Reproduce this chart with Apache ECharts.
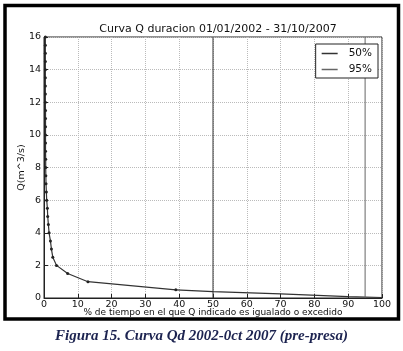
<!DOCTYPE html>
<html lang="es">
<head>
    <meta charset="UTF-8"/>
    <title>Curva Q duracion</title>
    <script src="https://cdn.jsdelivr.net/npm/echarts@6/dist/echarts.min.js"></script>
    <style>
        html, body { margin: 0; padding: 0; background: #fff; }
    </style>
</head>
<body>
<div id="main" style="width: 403px;height:351px;"></div>

<script type="text/javascript">
    // % de tiempo excedido (x) y caudal Q (y)
    var pctTiempo = [0.4, 0.4, 0.4, 0.4, 0.4, 0.4, 0.4, 0.4, 0.4, 0.45, 0.45, 0.45, 0.45, 0.45, 0.45, 0.5,
        0.5, 0.55, 0.6, 0.7, 0.8, 1.0, 1.1, 1.3, 1.5, 1.9, 2.2, 2.6, 3.7, 7.0, 13.0, 39.0];
    var caudal = [16, 15.5, 15, 14.5, 14, 13.5, 13, 12.5, 12, 11.5, 11, 10.5, 10, 9.5, 9, 8.5,
        8, 7.5, 7, 6.5, 6, 5.5, 5, 4.5, 4, 3.5, 3, 2.5, 2, 1.5, 1, 0.5];
    // tramo final de la curva (sin marcadores)
    var colaPct = [39, 50, 70, 90, 100];
    var colaQ = [0.5, 0.39, 0.25, 0.08, 0.03];

    var lineas = ['50%', '95%'];
    var lineasX = [50, 95];
    var xTicks = [0, 10, 20, 30, 40, 50, 60, 70, 80, 90, 100];
    var yTicks = [0, 2, 4, 6, 8, 10, 12, 14, 16];

    var curva = pctTiempo.map(function (p, i) { return [p, caudal[i]]; });
    var cola = colaPct.map(function (p, i) { return [p, colaQ[i]]; });

    var myChart = echarts.init(document.getElementById('main'));
    var font = 'DejaVu Sans';

    var option = {
        backgroundColor: '#fff',
        animation: false,
        title: {
            text: 'Curva Q duracion 01/01/2002 - 31/10/2007',
            left: 213,
            top: 19,
            textAlign: 'center',
            textStyle: {fontFamily: font, fontSize: 11, fontWeight: 'normal', color: '#111'}
        },
        legend: {
            data: lineas,
            orient: 'vertical',
            right: 25,
            top: 44,
            padding: [4, 6, 3, 6],
            itemGap: 5,
            itemWidth: 16,
            itemHeight: 1.5,
            icon: 'rect',
            borderColor: '#222',
            borderWidth: 1,
            backgroundColor: '#fff',
            textStyle: {fontFamily: font, fontSize: 10.5, color: '#111', padding: [0, 0, 0, 6]}
        },
        grid: {
            left: 44, top: 37, right: 21, bottom: 53,
            show: true, borderColor: '#222', borderWidth: 1
        },
        xAxis: {
            type: 'value',
            min: xTicks[0],
            max: xTicks[xTicks.length - 1],
            interval: 10,
            name: '% de tiempo en el que Q indicado es igualado o excedido',
            nameLocation: 'middle',
            nameGap: 10,
            nameMoveOverlap: false,
            nameTextStyle: {fontFamily: font, fontSize: 9, color: '#111'},
            axisLine: {show: true, lineStyle: {color: '#222'}},
            axisTick: {inside: true, length: 4, lineStyle: {color: '#222'}},
            axisLabel: {margin: 2, fontFamily: font, fontSize: 9.5, color: '#111'},
            splitLine: {show: true, lineStyle: {type: 'dotted', color: '#bbb'}}
        },
        yAxis: {
            type: 'value',
            min: yTicks[0],
            max: yTicks[yTicks.length - 1],
            interval: 2,
            name: 'Q(m^3/s)',
            nameLocation: 'middle',
            nameGap: 17,
            nameMoveOverlap: false,
            nameTextStyle: {fontFamily: font, fontSize: 9.5, color: '#111'},
            axisLine: {show: true, lineStyle: {color: '#222'}},
            axisTick: {show: true, inside: true, length: 4, lineStyle: {color: '#222'}},
            axisLabel: {margin: 3, fontFamily: font, fontSize: 9.5, color: '#111'},
            splitLine: {show: true, lineStyle: {type: 'dotted', color: '#bbb'}}
        },
        series: [
            {
                name: 'Q',
                type: 'line',
                data: curva,
                symbol: 'circle',
                symbolSize: 3,
                itemStyle: {color: '#222'},
                lineStyle: {color: '#333', width: 1.2}
            },
            {
                name: 'cola',
                type: 'line',
                data: cola,
                showSymbol: false,
                lineStyle: {color: '#333', width: 1.2}
            },
            {
                name: lineas[0],
                type: 'line',
                data: [[lineasX[0], yTicks[0]], [lineasX[0], yTicks[yTicks.length - 1]]],
                showSymbol: false,
                itemStyle: {color: '#333'},
                lineStyle: {color: '#333', width: 1}
            },
            {
                name: lineas[1],
                type: 'line',
                data: [[lineasX[1], yTicks[0]], [lineasX[1], yTicks[yTicks.length - 1]]],
                showSymbol: false,
                itemStyle: {color: '#666'},
                lineStyle: {color: '#666', width: 1}
            }
        ],
        graphic: [
            {
                type: 'rect',
                shape: {x: 5, y: 5.5, width: 393.5, height: 313.5},
                style: {fill: 'none', stroke: '#000', lineWidth: 3.5},
                silent: true
            },
            {
                type: 'text',
                left: 'center',
                top: 329,
                style: {
                    text: 'Figura 15. Curva Qd 2002-0ct 2007 (pre-presa)',
                    font: 'italic bold 15px "Liberation Serif"',
                    fill: '#1c2350'
                }
            }
        ]
    };

    myChart.setOption(option);
</script>
</body>
</html>
